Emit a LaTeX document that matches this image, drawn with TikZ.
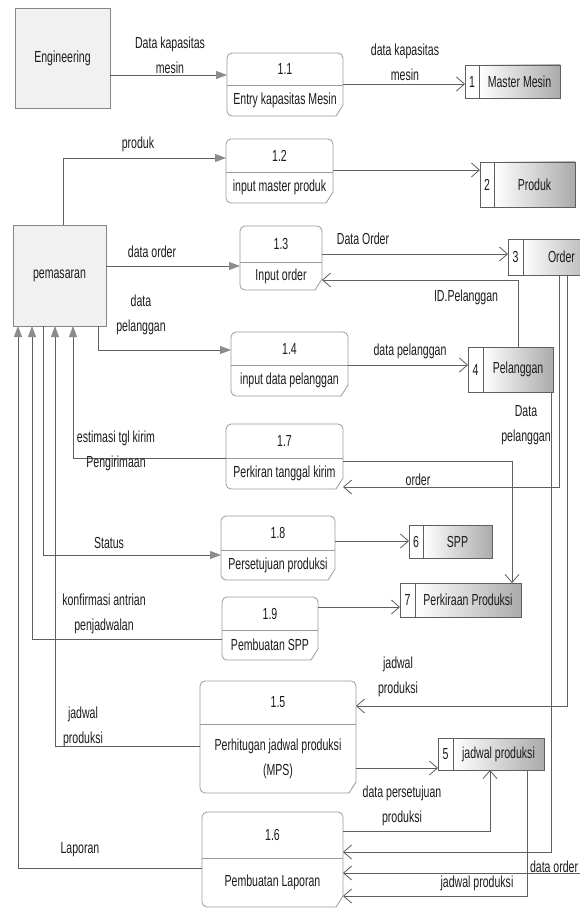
\documentclass[tikz,border=0pt]{standalone}
\usepackage{fontspec}
\setmainfont{Liberation Sans}[FakeStretch=0.66]
\usetikzlibrary{arrows.meta}

\definecolor{garis}{HTML}{5F5F5F}
\definecolor{garisproses}{HTML}{9A9A9A}
\definecolor{panah}{HTML}{8C8C8C}
\definecolor{isientitas}{HTML}{F1F1F1}
\definecolor{gradasi}{HTML}{ABABAB}
\definecolor{teks}{HTML}{1C1C1C}

\tikzset{
  every node/.style={font=\fontsize{16}{25}\selectfont, text=teks, inner sep=0pt, outer sep=0pt},
  entitas/.style={draw=garis!75, fill=isientitas, line width=0.8pt},
  prosesline/.style={draw=garisproses, line width=0.8pt},
  storeline/.style={draw=garis, line width=0.8pt},
  flow/.style={draw=garis, line width=0.8pt},
  isi/.style={flow, -{Triangle[length=11pt,width=8pt,color=panah]}},
  buka/.style={flow, -{Straight Barb[length=8pt,width=14pt]}},
  lbl/.style={align=center},
}

% proses: nama, x1, y1, x2, y2, garis bagi, nomor, teks
\newcommand{\proses}[8]{%
  \node[minimum width={#4-#2}, minimum height={#5-#3}] (#1) at ({(#2+#4)/2},{(#3+#5)/2}) {};
  \draw[prosesline, rounded corners=5pt] ([xshift=-7pt]#1.south east) -- (#1.south west)
    -- (#1.north west) -- (#1.north east) -- ([yshift=11pt]#1.south east);
  \draw[prosesline] ([yshift=11pt]#1.south east) -- ([xshift=-7pt]#1.south east);
  \draw[prosesline] (#1.west |- 0,#6) -- (#1.east |- 0,#6);
  \node (#1n) at ({(#2+#4)/2},{(#3+#6)/2}) {#7};
  \node[align=center] (#1t) at ({(#2+#4)/2},{(#6+#5)/2}) {#8};
}

% data store: nama, x1, y1, x2, y2, garis bagi, nomor, teks
\newcommand{\simpanan}[8]{%
  \shade[left color=white, right color=gradasi] (#6,#3) rectangle (#4,#5);
  \node[storeline, minimum width={#4-#2}, minimum height={#5-#3}] (#1) at ({(#2+#4)/2},{(#3+#5)/2}) {};
  \draw[storeline] (#6,#3) -- (#6,#5);
  \node (#1n) at ({(#2+#6)/2},{(#3+#5)/2}) {#7};
  \node (#1t) at ({(#6+#4)/2},{(#3+#5)/2}) {#8};
}

\begin{document}
\begin{tikzpicture}[x=1pt,y=-1pt]
\useasboundingbox (0,0) rectangle (579,909);
\fill[white] (0,0) rectangle (579,909);

% entitas luar
\node[entitas, minimum width=95pt, minimum height=100pt] (eng) at (62.5,58) {Engineering};
\node[entitas, minimum width=93pt, minimum height=101pt] (pem) at (59.5,275.5) {pemasaran};

% proses
\proses{p11}{227}{53}{343}{116}{85}{1.1}{Entry kapasitas Mesin}
\proses{p12}{226}{139}{333}{203}{172}{1.2}{input master produk}
\proses{p13}{240}{226}{322}{290}{262}{1.3}{Input order}
\proses{p14}{231}{332}{348}{396}{365}{1.4}{input data pelanggan}
\proses{p17}{226}{424}{343}{489}{458}{1.7}{Perkiran tanggal kirim}
\proses{p18}{221}{516}{335}{580}{550}{1.8}{Persetujuan produksi}
\proses{p19}{222}{597}{318}{660}{630}{1.9}{Pembuatan SPP}
\proses{p15}{200}{681}{356}{793}{724}{1.5}{Perhitugan jadwal produksi\\(MPS)}
\proses{p16}{202}{812}{343}{907}{858}{1.6}{Pembuatan Laporan}

% data store
\simpanan{s1}{465}{65}{560}{98}{479}{1}{Master Mesin}
\simpanan{s2}{480}{162}{575}{207}{494}{2}{Produk}
\simpanan{s3}{508}{239}{600}{275}{523}{3}{Order}
\simpanan{s4}{468}{347}{553}{392}{483}{4}{Pelanggan}
\simpanan{s6}{409}{525}{492}{558}{423}{6}{SPP}
\simpanan{s7}{400}{583}{521}{617}{415}{7}{Perkiraan Produksi}
\simpanan{s5}{438}{738}{544}{770}{453}{5}{jadwal produksi}

% aliran data
\draw[isi] (eng.east |- 0,75) -- (p11.west |- 0,75);
\draw[buka] (p11.east |- 0,84) -- (s1.west |- 0,84);
\draw[isi] (pem.north -| 63,0) |- (p12.west |- 0,158);
\draw[buka] (p12.east |- 0,170) -- (s2.west |- 0,170);
\draw[isi] (pem.east |- 0,266) -- (p13.west |- 0,266);
\draw[buka] (p13.east |- 0,254) -- (s3.west |- 0,254);
\draw[buka] (s4.north -| 518,0) |- (p13.east |- 0,280);
\draw[isi] (pem.south -| 98,0) |- (p14.west |- 0,350);
\draw[buka] (p14.east |- 0,365) -- (s4.west |- 0,365);
\draw[isi] (p17.west |- 0,458) -| (pem.south -| 73,0);
\draw[buka] (s3.south -| 559,0) |- (p17.east |- 0,487);
\draw[buka] (p17.east |- 0,461) -| (s7.north -| 512,0);
\draw[buka] (s4.south -| 551,0) |- (p16.east |- 0,852);
\draw[buka] (s3.south -| 567,0) |- (p15.east |- 0,706);
\draw[buka] (p18.east |- 0,541) -- (s6.west |- 0,541);
\draw[buka] (p19.east |- 0,607) -- (s7.west |- 0,607);
\draw[isi] (pem.south -| 43,0) |- (p18.west |- 0,555);
\draw[isi] (p19.west |- 0,639) -| (pem.south -| 32,0);
\draw[isi] (p15.west |- 0,746) -| (pem.south -| 55,0);
\draw[isi] (p16.west |- 0,868) -| (pem.south -| 18,0);
\draw[buka] (p15.east |- 0,768) -- (s5.west |- 0,768);
\draw[buka] (p16.east |- 0,831) -| (s5.south -| 490,0);
\coordinate (tepi) at (585,873);
\draw[buka] (tepi) -- (p16.east |- tepi);
\draw[buka] (s5.south -| 527,0) |- (p16.east |- 0,896);

% label
\node[lbl] (lDataKap) at (170,55) {Data kapasitas\\mesin};
\node[lbl] (ldataKap) at (405,62) {data kapasitas\\mesin};
\node[lbl] (lProduk) at (138,144) {produk};
\node[lbl] (lOrder1) at (152,252) {data order};
\node[lbl] (lOrder2) at (363,239) {Data Order};
\node[lbl] (lIdPel) at (466,297) {ID.Pelanggan};
\node[lbl] (lPel1) at (141,315) {data\\pelanggan};
\node[lbl] (lPel2) at (410,351) {data pelanggan};
\node[lbl] (lPel3) at (526,425) {Data\\pelanggan};
\node[lbl] (lEstimasi) at (116,451) {estimasi tgl kirim\\Pengirimaan};
\node[lbl] (lOrder3) at (418,480) {order};
\node[lbl] (lStatus) at (109,543) {Status};
\node[lbl] (lKonfirmasi) at (104,614) {konfirmasi antrian\\penjadwalan};
\node[lbl] (lJadwal1) at (398,677) {jadwal\\produksi};
\node[lbl] (lJadwal2) at (83,727) {jadwal\\produksi};
\node[lbl] (lSetuju) at (402,806) {data persetujuan\\produksi};
\node[lbl] (lLaporan) at (80,850) {Laporan};
\node[anchor=west] (lOrder4) at (530,867) {data order};
\node[lbl] (lJadwal3) at (477,883) {jadwal produksi};
\end{tikzpicture}
\end{document}
